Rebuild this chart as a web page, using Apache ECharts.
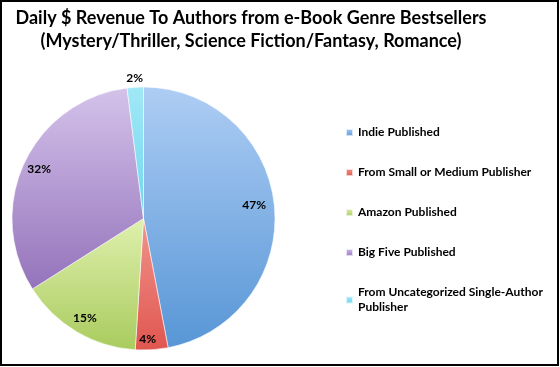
<!DOCTYPE html>
<html>
<head>
<meta charset="utf-8">
<script src="https://cdn.jsdelivr.net/npm/echarts@6/dist/echarts.min.js"></script>
<style>
html,body{margin:0;padding:0;background:#fff;}
#chart{width:560px;height:367px;}
</style>
</head>
<body>
<div id="chart"></div>
<script>
const titleLines = ['Daily $ Revenue To Authors from e-Book Genre Bestsellers', '(Mystery/Thriller, Science Fiction/Fantasy, Romance)'];
const categories = ['Indie Published', 'From Small or Medium Publisher', 'Amazon Published', 'Big Five Published', 'From Uncategorized Single-Author Publisher'];
const legendLabels = ['Indie Published', 'From Small or Medium Publisher', 'Amazon Published', 'Big Five Published', 'From Uncategorized Single-Author\nPublisher'];
const values = [47, 4, 15, 32, 2];
const colorsTop = ['#aecdf4', '#f0958d', '#dff0ad', '#d4c2ea', '#a2e8f6'];
const colorsBottom = ['#5796d6', '#e0564f', '#a9cb5e', '#9473bb', '#6fd6ee'];

const FONT = 'Lato, "Open Sans", sans-serif';
const chart = echarts.init(document.getElementById('chart'), null, {renderer: 'canvas'});

function grad(i) {
  return new echarts.graphic.LinearGradient(0, 0, 0, 1, [
    {offset: 0, color: colorsTop[i]},
    {offset: 1, color: colorsBottom[i]}
  ]);
}

const center = [143.5, 218.5];
const R = 131.5;

const mainData = categories.map((n, i) => ({name: n, value: values[i], itemStyle: {color: grad(i)}}));
const labelData = categories.map((n, i) => ({name: n, value: values[i], label: {show: i !== 4}}));
const outerData = categories.map((n, i) => ({name: n, value: values[i], label: {show: i === 4}}));

const labelStyle = {
  position: 'inside',
  formatter: '{c}%',
  color: '#000',
  fontFamily: FONT,
  fontWeight: 'bold',
  fontSize: 12
};

chart.setOption({
  animation: false,
  graphic: [
    {type: 'rect', shape: {x: 1, y: 1, width: 557, height: 364}, style: {fill: 'none', stroke: '#000', lineWidth: 2}, silent: true},
    {type: 'text', x: 251, y: 7, style: {text: titleLines.join('\n'), textAlign: 'center', fontFamily: FONT, fontWeight: 'bold', fontSize: 18, lineHeight: 23, fill: '#000'}}
  ],
  legend: {
    orient: 'vertical',
    left: 340,
    top: 120,
    itemWidth: 7,
    itemHeight: 7,
    itemGap: 25,
    icon: 'rect',
    data: categories,
    formatter: function (name) { return legendLabels[categories.indexOf(name)]; },
    textStyle: {fontFamily: FONT, fontWeight: 'bold', fontSize: 12, color: '#000', lineHeight: 15},
    selectedMode: false
  },
  series: [
    {
      type: 'pie',
      center: center,
      radius: [0, R],
      startAngle: 90,
      clockwise: true,
      label: {show: false},
      labelLine: {show: false},
      itemStyle: {borderColor: 'rgba(255,255,255,0.7)', borderWidth: 0.8},
      emphasis: {disabled: true},
      data: mainData
    },
    {
      type: 'pie',
      center: center,
      radius: [93, R],
      startAngle: 90,
      clockwise: true,
      silent: true,
      itemStyle: {color: 'rgba(0,0,0,0)'},
      label: labelStyle,
      labelLine: {show: false},
      labelLayout: function (p) {
        if (p.dataIndex === 0) return {dy: -3, dx: -4};
        if (p.dataIndex === 1) return {dy: 6, dx: -3};
        return {};
      },
      emphasis: {disabled: true},
      data: labelData
    },
    {
      type: 'pie',
      center: center,
      radius: [R, 143],
      startAngle: 90,
      clockwise: true,
      silent: true,
      itemStyle: {color: 'rgba(0,0,0,0)'},
      label: labelStyle,
      labelLine: {show: false},
      emphasis: {disabled: true},
      data: outerData
    }
  ]
});
</script>
</body>
</html>
